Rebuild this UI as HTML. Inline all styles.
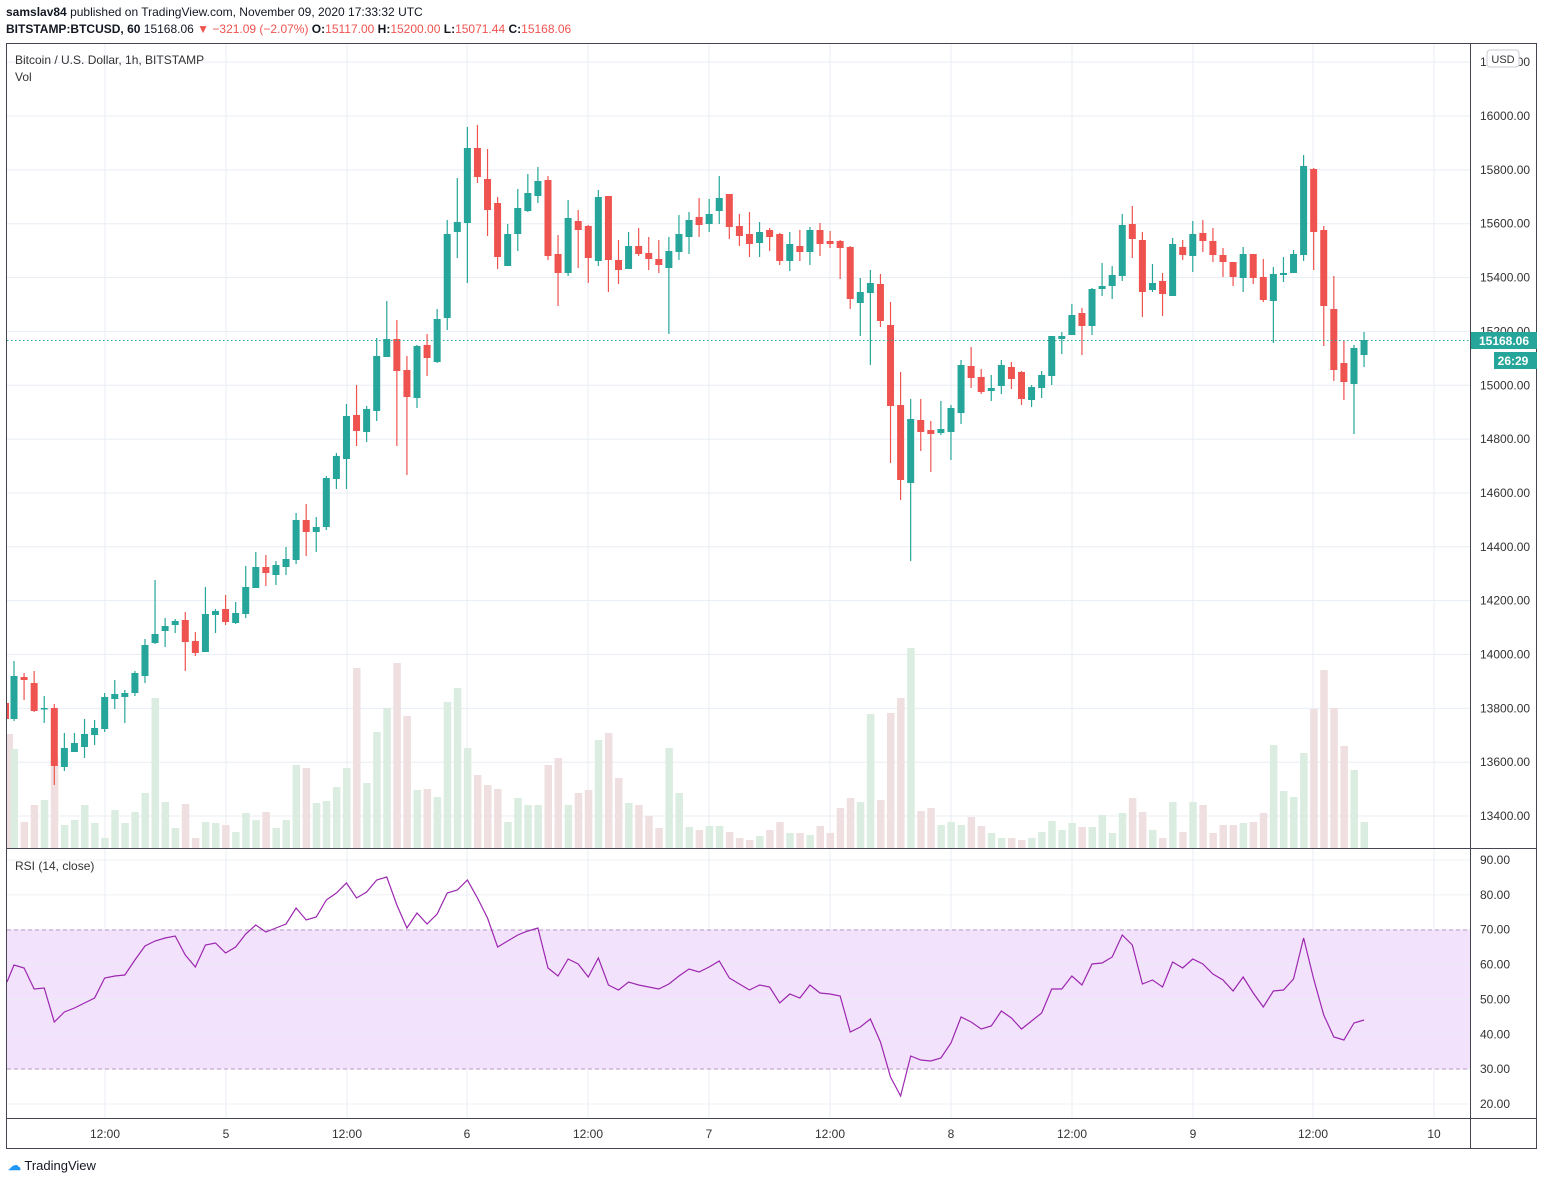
<!DOCTYPE html>
<html><head><meta charset="utf-8"><style>
body{margin:0;background:#fff;font-family:"Liberation Sans",sans-serif;}
#wrap{position:relative;width:1543px;height:1185px;overflow:hidden;}
.t{position:absolute;white-space:nowrap;font-size:12px;color:#131722;}
</style></head><body><div id="wrap">
<div class="t" style="left:6px;top:5px;"><b>samslav84</b> published on TradingView.com, November 09, 2020 17:33:32 UTC</div>
<div class="t" style="left:6px;top:22px;"><b>BITSTAMP:BTCUSD, 60</b> 15168.06 <span style="color:#ef5350">▼ −321.09 (−2.07%)</span> <b>O:</b><span style="color:#ef5350">15117.00</span> <b>H:</b><span style="color:#ef5350">15200.00</span> <b>L:</b><span style="color:#ef5350">15071.44</span> <b>C:</b><span style="color:#ef5350">15168.06</span></div>
<svg id="s" width="1543" height="1185" style="position:absolute;left:0;top:0" xmlns="http://www.w3.org/2000/svg"></svg>
<div class="t" style="left:15px;top:53px;color:#333">Bitcoin / U.S. Dollar, 1h, BITSTAMP</div>
<div class="t" style="left:15px;top:70px;color:#333">Vol</div>
<div class="t" style="left:15px;top:859px;color:#333">RSI (14, close)</div>
<div class="t" style="left:8px;top:1158px;font-size:13px;color:#131722"><span style="color:#2196f3;font-weight:bold">☁</span> TradingView</div>
</div>
<script>
const s=document.getElementById('s');let h='';
const G='#26a69a',R='#ef5350';
// grid
for(let k=-1;k<=13;k++){const y=116+53.85*k;if(y>43&&y<848)h+=`<line x1="7" x2="1470" y1="${y}" y2="${y}" stroke="#e8eef4"/>`;}
const vx=[105,226,347,467,588,709,830,951,1072,1193,1313,1434];
vx.forEach(x=>{h+=`<line x1="${x}" x2="${x}" y1="43" y2="1118" stroke="#e8eef4"/>`;});
// rsi
h+=`<rect x="7" y="930" width="1463" height="139" fill="#f3e2fc"/>`;
for(let v=20;v<=90;v+=10){const y=1104-(v-20)*3.486;h+=`<line x1="7" x2="1470" y1="${y}" y2="${y}" stroke="#e8eef4" stroke-opacity="0.8"/>`;
h+=`<text x="1480" y="${y+4}" font-size="12" fill="#333" font-family="Liberation Sans">${v}.00</text>`;}
h+=`<line x1="7" x2="1470" y1="930" y2="930" stroke="#b99ac4" stroke-dasharray="4,3"/><line x1="7" x2="1470" y1="1069" y2="1069" stroke="#b99ac4" stroke-dasharray="4,3"/>`;
// volume
const vol=[749,822,805,800,757,825,820,805,823,838,810,823,812,793,698,802,828,804,838,822,823,825,832,813,820,812,828,820,765,768,803,801,787,768,668,783,732,708,663,716,790,789,797,702,688,748,775,785,789,822,798,805,805,765,758,805,793,790,740,733,778,803,805,816,828,748,793,827,830,826,826,832,838,840,836,830,822,833,833,835,826,833,808,798,802,714,800,713,698,648,811,808,825,822,825,817,826,833,838,838,840,838,832,821,830,823,827,827,815,833,813,798,812,830,838,802,832,802,805,833,825,825,823,822,813,745,791,797,753,709,670,708,746,770,822];
const C=[[719,676,661,721],[677,680,673,700],[683,711,671,712],[708,708,696,723],[708,766,704,785],[767,748,733,771],[752,743,733,752],[747,734,719,758],[735,728,720,745],[729,697,693,732],[699,694,680,709],[697,693,690,723],[693,673,671,696],[676,645,639,683],[643,634,580,644],[631,626,618,647],[625,621,619,633],[620,642,612,671],[641,653,632,656],[652,614,587,652],[615,611,609,633],[609,622,595,625],[623,613,602,624],[614,587,566,618],[588,567,552,588],[567,573,555,586],[575,565,561,585],[567,559,547,575],[560,520,513,564],[520,532,504,556],[532,527,517,552],[527,478,476,530],[479,456,453,489],[459,416,404,489],[415,431,385,446],[432,409,406,442],[411,356,338,421],[357,339,301,357],[339,371,320,446],[370,397,356,475],[398,346,345,408],[345,358,334,376],[362,319,309,363],[318,234,220,330],[232,222,178,258],[223,148,127,283],[148,177,125,183],[179,210,149,236],[203,257,197,269],[266,234,224,266],[234,208,189,251],[211,193,174,212],[196,181,167,203],[180,256,176,260],[254,273,235,306],[273,218,200,276],[221,230,210,268],[226,258,225,283],[261,197,190,266],[196,260,196,292],[260,270,240,284],[269,246,232,269],[246,254,228,256],[253,259,237,270],[259,265,240,273],[268,251,237,334],[252,234,215,260],[237,220,212,254],[217,225,198,237],[224,214,199,232],[211,198,176,224],[194,227,194,239],[226,236,214,246],[234,244,212,257],[243,232,222,257],[230,237,228,251],[234,261,233,265],[261,244,232,271],[246,252,230,261],[252,230,227,265],[230,244,223,256],[241,244,231,248],[241,248,240,279],[247,299,246,309],[303,292,278,336],[293,283,270,365],[284,321,274,327],[325,406,302,463],[405,480,372,500],[483,419,399,561],[420,432,399,451],[430,434,421,472],[433,429,401,435],[432,408,405,460],[413,365,360,424],[366,378,347,388],[377,392,369,394],[391,388,375,401],[386,365,360,394],[367,379,362,389],[372,399,371,405],[400,387,385,407],[388,375,371,398],[376,336,336,385],[339,336,332,354],[335,315,304,335],[313,326,308,355],[326,289,288,335],[289,286,263,296],[286,275,266,299],[276,225,214,281],[224,239,206,258],[240,292,232,317],[290,283,264,292],[281,294,273,316],[296,244,238,296],[247,255,240,260],[256,234,221,272],[233,241,220,252],[241,255,228,262],[255,262,248,277],[262,277,262,286],[278,254,247,292],[254,278,254,284],[277,300,259,302],[301,274,267,343],[275,273,257,282],[273,254,250,273],[255,166,155,261],[169,232,168,270],[230,306,226,346],[309,370,276,381],[363,382,341,400],[384,348,345,434],[355,340,332,367]];
const X=i=>14+i*10.075;
// partial candle at left
h+=`<rect x="7" y="703" width="2" height="16" fill="${R}"/><rect x="7" y="734" width="6" height="114" fill="#efdfe0"/>`;
C.forEach((c,i)=>{const x=X(i);const up=c[1]<=c[0];const col=up?G:R;
h+=`<rect x="${x-3.5}" y="${vol[i]}" width="7.5" height="${848-vol[i]}" fill="${up?'#dbede1':'#efdfe0'}"/>`;});
C.forEach((c,i)=>{const x=X(i);const up=c[1]<=c[0];const col=up?G:R;
const t=Math.min(c[0],c[1]),b=Math.max(c[0],c[1]);
h+=`<line x1="${x}" x2="${x}" y1="${c[2]}" y2="${c[3]}" stroke="${col}" stroke-width="1.2"/><rect x="${x-3.5}" y="${t}" width="7" height="${Math.max(b-t,1.5)}" fill="${col}"/>`;});
// rsi line
const rs=[965,968,989,988,1022,1012,1008,1003,998,978,976,975,960,946,941,938,936,955,967,945,943,953,947,934,925,932,928,924,908,920,917,900,893,883,898,892,880,877,905,928,913,924,914,893,890,880,898,918,947,941,935,931,928,968,976,959,964,977,958,985,990,982,985,987,989,984,976,969,972,967,961,978,984,990,985,987,1003,994,998,985,993,994,996,1032,1027,1019,1042,1077,1096,1056,1060,1061,1058,1043,1017,1022,1029,1026,1011,1018,1029,1021,1013,989,989,976,985,964,963,957,935,945,984,980,987,962,968,959,964,974,980,991,977,993,1007,991,990,979,938,979,1015,1037,1040,1023,1020];
h+=`<polyline fill="none" stroke="#9c27b0" stroke-width="1.2" points="7,982 ${rs.map((y,i)=>X(i)+','+y).join(' ')}"/>`;
// price line
h+=`<line x1="7" x2="1470" y1="340.5" y2="340.5" stroke="${G}" stroke-dasharray="1.5,2.5"/>`;
// frames
h+=`<rect x="6.5" y="43.5" width="1530" height="1105" fill="none" stroke="#434651"/>`;
h+=`<line x1="1470.5" x2="1470.5" y1="43" y2="1148" stroke="#434651"/><line x1="6" x2="1537" y1="848.5" y2="848.5" stroke="#434651"/><line x1="6" x2="1537" y1="1118.5" y2="1118.5" stroke="#434651"/>`;
// price labels
for(let k=-1;k<=13;k++){const y=116+53.85*k;const p=16000-200*k;if(y>50&&y<840)h+=`<text x="1480" y="${y+4}" font-size="12" fill="#333" font-family="Liberation Sans">${p}.00</text>`;}
h+=`<rect x="1487" y="50" width="32" height="17" rx="3" fill="#fff" stroke="#c9cbd1"/><text x="1503" y="63" font-size="11" text-anchor="middle" fill="#333" font-family="Liberation Sans">USD</text>`;
h+=`<rect x="1471" y="332" width="66" height="17" fill="${G}"/><text x="1504" y="345" font-size="12" font-weight="bold" text-anchor="middle" fill="#fff" font-family="Liberation Sans">15168.06</text>`;
h+=`<rect x="1494" y="352" width="43" height="17" fill="${G}"/><text x="1513" y="365" font-size="12" font-weight="bold" text-anchor="middle" fill="#fff" font-family="Liberation Sans">26:29</text>`;
const tl=['12:00','5','12:00','6','12:00','7','12:00','8','12:00','9','12:00','10'];
vx.forEach((x,i)=>{h+=`<text x="${x}" y="1138" font-size="12" text-anchor="middle" fill="#333" font-family="Liberation Sans">${tl[i]}</text>`;});
s.innerHTML=h;
</script></body></html>
